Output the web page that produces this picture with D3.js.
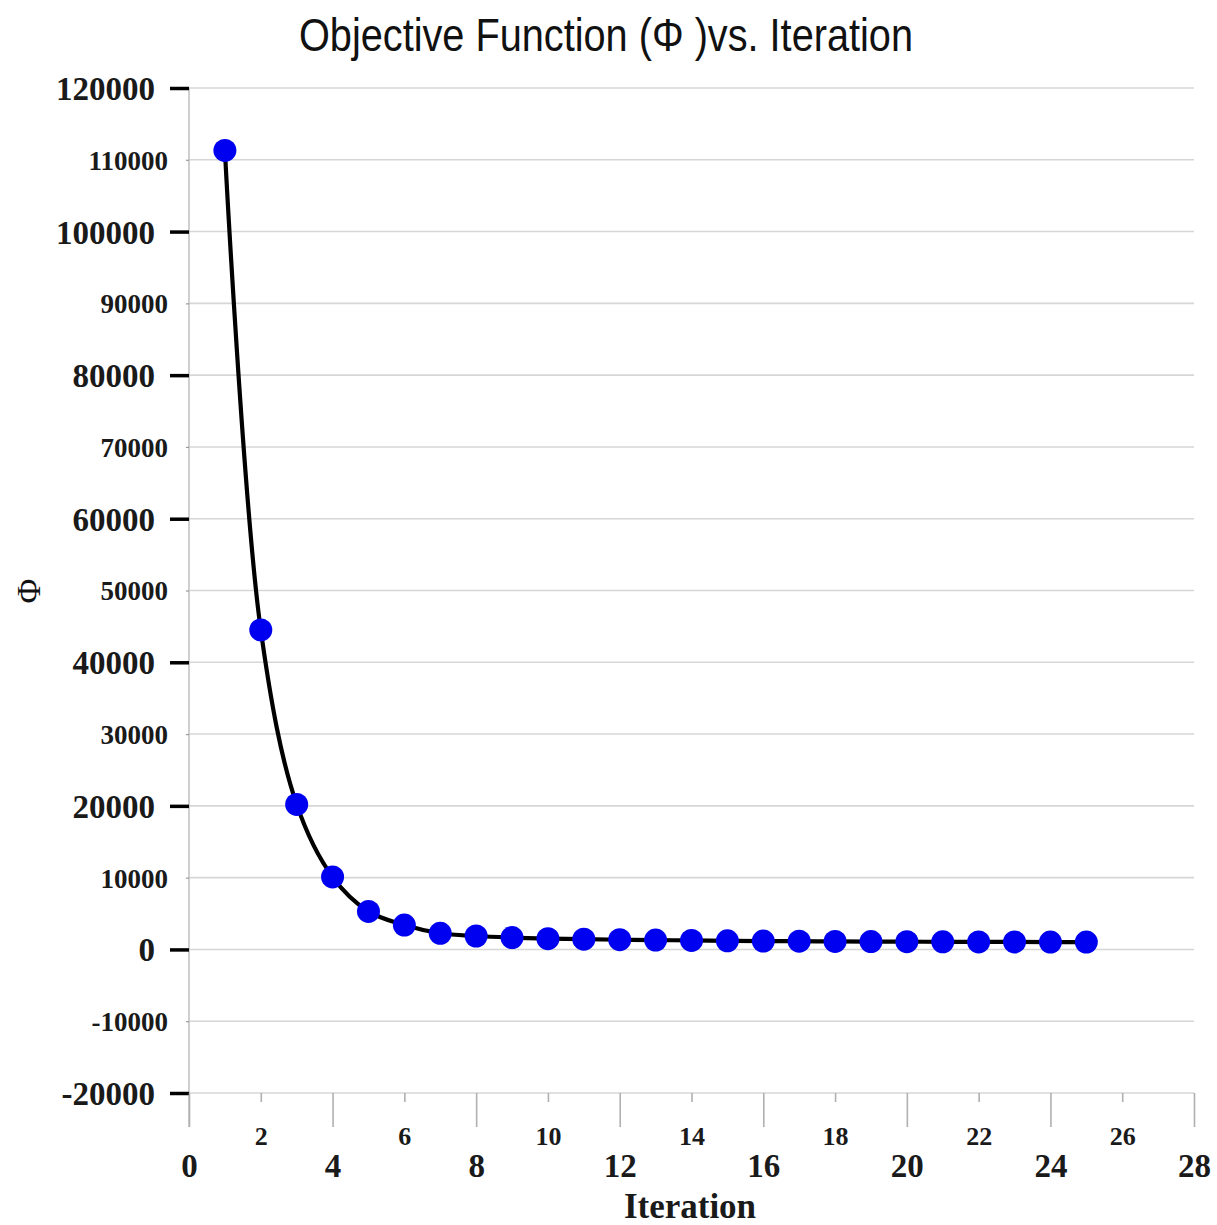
<!DOCTYPE html>
<html>
<head>
<meta charset="utf-8">
<script src="https://cdn.jsdelivr.net/npm/d3@7"></script>
<style>
  html, body { margin: 0; padding: 0; background: #fff; }
  svg { display: block; }
</style>
</head>
<body>
<svg id="chart" width="1217" height="1225"></svg>
<script>
// ---- data ----
const iterations = [1,2,3,4,5,6,7,8,9,10,11,12,13,14,15,16,17,18,19,20,21,22,23,24,25];
const phi = [111300, 44500, 20200, 10100, 5300, 3400, 2250, 1870, 1650, 1500, 1430, 1350, 1300, 1250, 1200, 1170, 1150, 1120, 1100, 1080, 1060, 1050, 1040, 1030, 1020];
const yTicks = [-20000, -10000, 0, 10000, 20000, 30000, 40000, 50000, 60000, 70000, 80000, 90000, 100000, 110000, 120000];
const xTicks = [0, 2, 4, 6, 8, 10, 12, 14, 16, 18, 20, 22, 24, 26, 28];
const titleText = "Objective Function (Φ )vs. Iteration";
const xLabel = "Iteration";
const yLabel = "Φ";

const svg = d3.select("#chart");
const x = d3.scaleLinear().domain([0, 28]).range([189, 1194]);
const y = d3.scaleLinear().domain([-20000, 120000]).range([1093, 88]);
const serif = "'Liberation Serif', 'DejaVu Serif', serif";
const fmt = d => String(d);

// gridlines
svg.append("g").selectAll("line").data(yTicks).join("line")
  .attr("x1", x(0)).attr("x2", x(28))
  .attr("y1", d => y(d)).attr("y2", d => y(d))
  .attr("stroke", "#d6d6d6").attr("stroke-width", 1.6);

// left axis line
svg.append("line").attr("x1", x(0)).attr("x2", x(0))
  .attr("y1", y(120000)).attr("y2", y(-20000) + 34)
  .attr("stroke", "#c4c4c4").attr("stroke-width", 1.6);

// y axis
const yAxis = svg.append("g").attr("transform", `translate(${x(0)},0)`)
  .call(d3.axisLeft(y).tickValues(yTicks).tickFormat(fmt));
yAxis.select(".domain").remove();
yAxis.selectAll(".tick").each(function(d) {
  const major = d % 20000 === 0;
  const t = d3.select(this);
  t.select("line").attr("x2", major ? -19 : -3)
    .attr("stroke", major ? "#000" : "#999")
    .attr("stroke-width", major ? 3.5 : 1.2);
  t.select("text").attr("x", major ? -34 : -21).attr("dy", "0.35em")
    .attr("font-family", serif).attr("font-weight", "bold")
    .attr("font-size", major ? 33 : 27).attr("fill", "#1a1a1a");
});

// x axis
const xAxis = svg.append("g").attr("transform", `translate(0,${y(-20000)})`)
  .call(d3.axisBottom(x).tickValues(xTicks).tickFormat(fmt));
xAxis.select(".domain").remove();
xAxis.selectAll(".tick").each(function(d) {
  const major = d % 4 === 0;
  const t = d3.select(this);
  t.select("line").attr("y2", major ? 34 : 9)
    .attr("stroke", "#b0b0b0").attr("stroke-width", 1.6);
  t.select("text").attr("y", major ? 72 : 43).attr("dy", "0.35em")
    .attr("font-family", serif).attr("font-weight", "bold")
    .attr("font-size", major ? 33 : 26).attr("fill", "#1a1a1a");
});

// line
const pts = iterations.map((it, i) => [it, phi[i]]);
svg.append("path").datum(pts)
  .attr("fill", "none").attr("stroke", "#000").attr("stroke-width", 4.2)
  .attr("d", d3.line().x(d => x(d[0])).y(d => y(d[1])).curve(d3.curveCatmullRom.alpha(0.5)));

// markers
svg.append("g").selectAll("circle").data(pts).join("circle")
  .attr("cx", d => x(d[0])).attr("cy", d => y(d[1])).attr("r", 11.5)
  .attr("fill", "#0000f0");

// title
svg.append("text").attr("x", 606).attr("y", 51)
  .attr("text-anchor", "middle")
  .attr("font-family", "'Liberation Sans Narrow', 'Liberation Sans', Arial, sans-serif")
  .attr("font-size", 46).attr("fill", "#111")
  .attr("textLength", 614).attr("lengthAdjust", "spacingAndGlyphs")
  .text(titleText);

// axis labels
svg.append("text").attr("x", 690).attr("y", 1218)
  .attr("text-anchor", "middle").attr("font-family", serif).attr("font-weight", "bold")
  .attr("font-size", 35).attr("fill", "#1a1a1a").text(xLabel);

svg.append("text").attr("transform", "translate(40,591) rotate(-90)")
  .attr("text-anchor", "middle").attr("font-family", serif)
  .attr("font-size", 34).attr("fill", "#111").text(yLabel);
</script>
</body>
</html>
